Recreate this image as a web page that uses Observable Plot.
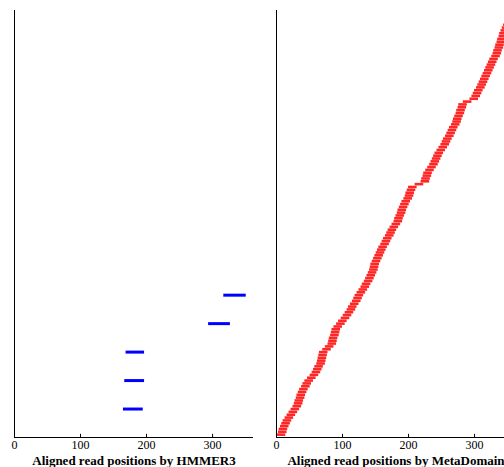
<!DOCTYPE html>
<html><head><meta charset="utf-8">
<script src="https://cdn.jsdelivr.net/npm/d3@7"></script>
<script src="https://cdn.jsdelivr.net/npm/@observablehq/plot@0.6"></script>
<style>
body{margin:0;background:#fff}
#wrap{position:relative;width:504px;height:467px;overflow:hidden;background:#fff}
#wrap svg{position:absolute;top:0}
</style></head><body><div id="wrap"></div>
<script>
// Tick labels
const tickValues = [0, 100, 200, 300];

// HMMER3 aligned reads (read index, start, end)
const hmmerIndex = [10, 20, 30, 40, 50];
const hmmerStart = [165, 167, 169, 294, 317];
const hmmerEnd   = [195, 197, 197, 327, 351];

// MetaDomain aligned reads: start position for read index 1..149
const metaStart = [
  1,3,4,6,8,10, 13,16,19,22,25, 27,28,30,31,33, 35,38,40, 43,47,51,54, 56,58,61,
  62,63,64,65, 70,74,78, 79,80,82,83,84, 87,91,94,98, 101,104,107,109,112,
  115,117,119,122,125, 128,130,133, 135,137,139,141, 142,143,145, 147,149,151,153,
  155,158,160, 162,165,167,169, 172,175,178, 179,181,183,184,186, 188,190,193,195,
  196,198,200, 210, 219,220,222,223, 226,229,232, 234,236,238,240, 243,246,249,
  251,253,256,258,260, 262,265,267, 268,270,272,273,275, 276, 283, 293,296,
  298,300,303,305, 307,309,311,313, 315,317,319, 321,323,326,328, 329,331,332,334,
  335,337,338,340, 342,344,346,348,350,352
];
const metaReadLength = 13;

const hmmerReads = hmmerIndex.map((index, i) => ({index, start: hmmerStart[i], end: hmmerEnd[i]}));
const metaReads = metaStart.map((start, i) => ({index: i + 1, start, end: start + metaReadLength}));

function panel(reads, color, sw, title, left) {
  const p = Plot.plot({
    width: 262, height: 467,
    marginLeft: 14, marginRight: 9, marginTop: 10, marginBottom: 30,
    x: {domain: [0, 362], axis: null},
    y: {domain: [0, 150], axis: null},
    style: {fontFamily: "'Liberation Serif', 'Times New Roman', serif", background: "transparent", color: "black", overflow: "visible"},
    marks: [
      Plot.ruleY(reads, {y: "index", x1: "start", x2: "end", stroke: color, strokeWidth: sw}),
      Plot.ruleX([0], {stroke: "black"}),
      Plot.ruleY([0], {stroke: "black"}),
      Plot.ruleX(tickValues.filter(d => d > 0), {x: d => d, y1: 0, y2: 1.1, stroke: "black"}),
      Plot.axisX({ticks: tickValues, tickSize: 0, tickPadding: 3, fontSize: 12, tickFormat: d => String(d), label: null}),
      Plot.text([title], {frameAnchor: "bottom", dy: 27, fontWeight: "bold", fontSize: 13, fill: "black"})
    ]
  });
  p.style.left = left + "px";
  document.getElementById("wrap").appendChild(p);
}

panel(hmmerReads, "#0000ff", 3, "Aligned read positions by HMMER3", 0);
panel(metaReads, "#ff2626", 2.6, "Aligned read positions by MetaDomain", 262);
</script></body></html>
